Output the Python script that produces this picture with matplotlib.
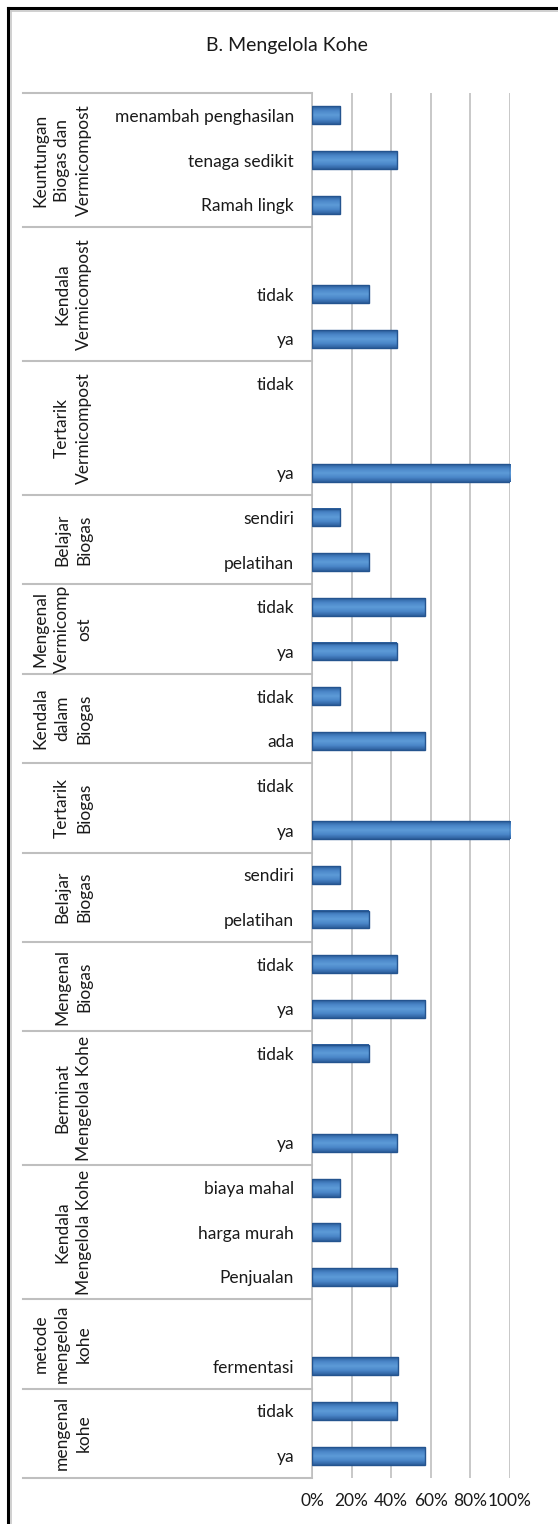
import numpy as np
import matplotlib
matplotlib.use("Agg")
import matplotlib.pyplot as plt
import matplotlib.transforms as mtransforms
from matplotlib.colors import LinearSegmentedColormap

plt.rcParams['font.family'] = ['Lato', 'DejaVu Sans']

# --- data (top to bottom) ---
title = "B. Mengelola Kohe"

group_labels = [
    "Keuntungan\nBiogas dan\nVermicompost",
    "Kendala\nVermicompost",
    "Tertarik\nVermicompost",
    "Belajar\nBiogas",
    "Mengenal\nVermicomp\nost",
    "Kendala\ndalam\nBiogas",
    "Tertarik\nBiogas",
    "Belajar\nBiogas",
    "Mengenal\nBiogas",
    "Berminat\nMengelola Kohe",
    "Kendala\nMengelola Kohe",
    "metode\nmengelola\nkohe",
    "mengenal\nkohe",
]
group_sizes = [3, 3, 3, 2, 2, 2, 2, 2, 2, 3, 3, 2, 2]

categories = [
    "menambah penghasilan", "tenaga sedikit", "Ramah lingk",
    "", "tidak", "ya",
    "tidak", "", "ya",
    "sendiri", "pelatihan",
    "tidak", "ya",
    "tidak", "ada",
    "tidak", "ya",
    "sendiri", "pelatihan",
    "tidak", "ya",
    "tidak", "", "ya",
    "biaya mahal", "harga murah", "Penjualan",
    "", "fermentasi",
    "tidak", "ya",
]
# persen responden; nan = baris kosong
values = [
    14.3, 42.9, 14.3,
    np.nan, 28.6, 42.9,
    0, np.nan, 100,
    14.3, 28.6,
    57.1, 42.9,
    14.3, 57.1,
    0, 100,
    14.3, 28.6,
    42.9, 57.1,
    28.6, np.nan, 42.9,
    14.3, 14.3, 42.9,
    np.nan, 43.5,
    42.9, 57.1,
]
xticks = [0, 20, 40, 60, 80, 100]

# --- figure ---
W, H = 558, 1524
fig = plt.figure(figsize=(W / 100, H / 100), dpi=100)

def px(x, y):
    return x / W, 1 - y / H

x0, x1 = 312, 510
y0, y1 = 93, 1478
ax = fig.add_axes([x0 / W, 1 - y1 / H, (x1 - x0) / W, (y1 - y0) / H])

n = len(categories)
ypos = np.arange(n)
bar_h = 0.4
grey = "#BFBFBF"

# bars with a soft vertical gradient
cmap = LinearSegmentedColormap.from_list("bar", ["#2C5E9C", "#4A86C8", "#5D9BD8", "#4A86C8", "#2C5E9C"])
grad = np.linspace(0, 1, 64).reshape(-1, 1)
for y, v in zip(ypos, values):
    if np.isnan(v) or v <= 0:
        continue
    ax.imshow(grad, cmap=cmap, aspect="auto", interpolation="bilinear",
              extent=(0, v, y + bar_h / 2, y - bar_h / 2), zorder=3)
    ax.barh(y, v, height=bar_h, facecolor="none", edgecolor="#24548F", linewidth=1.0, zorder=4)

ax.set_xlim(0, 100)
ax.set_ylim(n - 0.5, -0.5)
ax.set_xticks(xticks)
ax.set_xticklabels([f"{t}%" for t in xticks])
ax.set_yticks(ypos)
ax.set_yticklabels(categories)
ax.tick_params(axis="y", length=0, pad=13, labelsize=12.5, labelcolor="#1a1a1a")
ax.tick_params(axis="x", length=0, pad=11, labelsize=12.5, labelcolor="#1a1a1a")
ax.grid(axis="x", color=grey, linewidth=1.2, zorder=0)
ax.set_axisbelow(True)
for s in ["top", "right", "bottom"]:
    ax.spines[s].set_visible(False)
ax.spines["left"].set_color(grey)
ax.spines["left"].set_linewidth(1.2)

# group separators and rotated group labels
trans = mtransforms.blended_transform_factory(fig.transFigure, ax.transData)
start = -0.5
ax.plot([23 / W, x0 / W], [start, start], transform=trans, color=grey, lw=1.5, clip_on=False)
for label, size in zip(group_labels, group_sizes):
    end = start + size
    ax.plot([23 / W, x0 / W], [end, end], transform=trans, color=grey, lw=1.5, clip_on=False)
    ax.text(92 / W, (start + end) / 2, label, transform=trans, rotation=90,
            ha="right", va="center", multialignment="center", fontsize=12.5,
            color="#1a1a1a", linespacing=1.45)
    start = end

fig.text(*px(287, 45), title, ha="center", va="center", fontsize=14, color="#1a1a1a")

# chart frame
fig.add_artist(plt.Line2D([8 / W, 8 / W], [0, 1 - 8 / H], color="black", lw=2.2))
fig.add_artist(plt.Line2D([8 / W, 1], [1 - 8 / H, 1 - 8 / H], color="black", lw=2.2))
fig.add_artist(plt.Line2D([10.5 / W, 10.5 / W], [0, 1 - 10.5 / H], color="#C8C8C8", lw=1.2))
fig.add_artist(plt.Line2D([10.5 / W, 1], [1 - 10.5 / H, 1 - 10.5 / H], color="#C8C8C8", lw=1.2))

fig.savefig("out.png", dpi=100)
